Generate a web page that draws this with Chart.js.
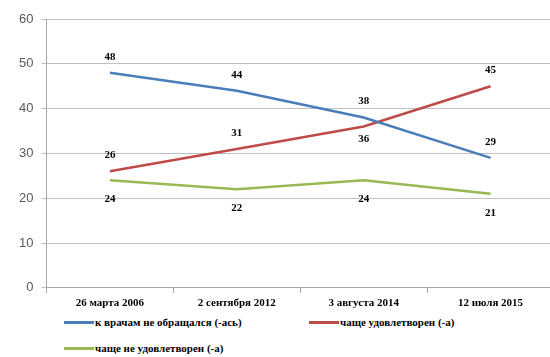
<!DOCTYPE html>
<html>
<head>
<meta charset="utf-8">
<script src="https://cdn.jsdelivr.net/npm/chart.js@4/dist/chart.umd.min.js"></script>
<style>
    html, body { margin: 0; padding: 0; background: #fff; overflow: hidden; }
    body { width: 550px; height: 357px; position: relative; }
    #wrap { position: absolute; left: 0; top: 0; width: 554px; height: 316px; }
    #legenda { position: absolute; left: 0; top: 312px; width: 550px; font: bold 11px "Liberation Serif", serif; color: #000; }
    .item { position: absolute; display: flex; align-items: center; white-space: nowrap; }
    .item span.garis { display: inline-block; width: 30px; height: 3px; margin-right: 1px; }
</style>
</head>
<body>
<div id="wrap"><canvas id="grafikOpros"></canvas></div>
<div id="legenda"></div>
<script>
const tanggal = ['26 марта 2006', '2 сентября 2012', '3 августа 2014', '12 июля 2015'];
const namaSeri = ['к врачам не обращался (-ась)', 'чаще удовлетворен (-а)', 'чаще не удовлетворен (-а)'];
const tidakBerobat = [48, 44, 38, 29];
const puas = [26, 31, 36, 45];
const tidakPuas = [24, 22, 24, 21];
const warna = ['#4a7ebb', '#be4b48', '#98b954'];
// posisi label angka: -1 di atas titik, 1 di bawah titik
const posisiLabel = [
    [-1, -1, -1, -1],
    [-1, -1, 1, -1],
    [1, 1, 1, 1]
];

// tulis angka di dekat setiap titik
const labelNilai = {
    id: 'labelNilai',
    afterDatasetsDraw(chart) {
        const ctx = chart.ctx;
        ctx.save();
        ctx.font = 'bold 11px "Liberation Serif", serif';
        ctx.fillStyle = '#000';
        ctx.textAlign = 'center';
        ctx.textBaseline = 'middle';
        chart.data.datasets.forEach((ds, i) => {
            chart.getDatasetMeta(i).data.forEach((pt, j) => {
                const arah = posisiLabel[i][j];
                const jarak = arah < 0 ? 16 : (i === 2 ? 19 : 13);
                ctx.fillText(ds.data[j], pt.x, pt.y + arah * jarak);
            });
        });
        ctx.restore();
    }
};

const semuaSeri = [tidakBerobat, puas, tidakPuas];

const ctx = document.getElementById('grafikOpros').getContext('2d');
new Chart(ctx, {
    type: 'line',
    data: {
        labels: tanggal,
        datasets: semuaSeri.map((nilai, i) => ({
            label: namaSeri[i],
            data: nilai,
            borderColor: warna[i],
            backgroundColor: warna[i],
            borderWidth: 2.5,
            pointRadius: 0,
            tension: 0,
            fill: false
        }))
    },
    options: {
        responsive: true,
        maintainAspectRatio: false,
        animation: false,
        layout: { padding: { top: 19, left: 11, right: 0, bottom: 2 } },
        plugins: {
            legend: { display: false },
            tooltip: { enabled: false }
        },
        scales: {
            x: {
                offset: true,
                grid: {
                    offset: true,
                    drawOnChartArea: false,
                    color: '#a6a6a6',
                    tickLength: 5
                },
                border: { color: '#a6a6a6' },
                ticks: {
                    color: '#000',
                    maxRotation: 0,
                    padding: 4,
                    font: { family: '"Liberation Serif", serif', size: 11, weight: 'bold' }
                }
            },
            y: {
                min: 0,
                max: 60,
                ticks: {
                    stepSize: 10,
                    color: '#595959',
                    padding: 8,
                    font: { family: '"Liberation Sans", Arial, sans-serif', size: 13 }
                },
                grid: { color: '#bfbfbf', tickLength: 5 },
                border: { color: '#a6a6a6' }
            }
        }
    },
    plugins: [labelNilai]
});

// legenda di bawah grafik
const legenda = document.getElementById('legenda');
const letakLegenda = [[64, 11], [309, 11], [64, 37]];
namaSeri.forEach((nama, i) => {
    const el = document.createElement('div');
    el.className = 'item';
    el.style.left = letakLegenda[i][0] + 'px';
    el.style.top = (letakLegenda[i][1] - 7) + 'px';
    el.innerHTML = '<span class="garis" style="background:' + warna[i] + '"></span>';
    el.appendChild(document.createTextNode(nama));
    legenda.appendChild(el);
});
</script>
</body>
</html>
